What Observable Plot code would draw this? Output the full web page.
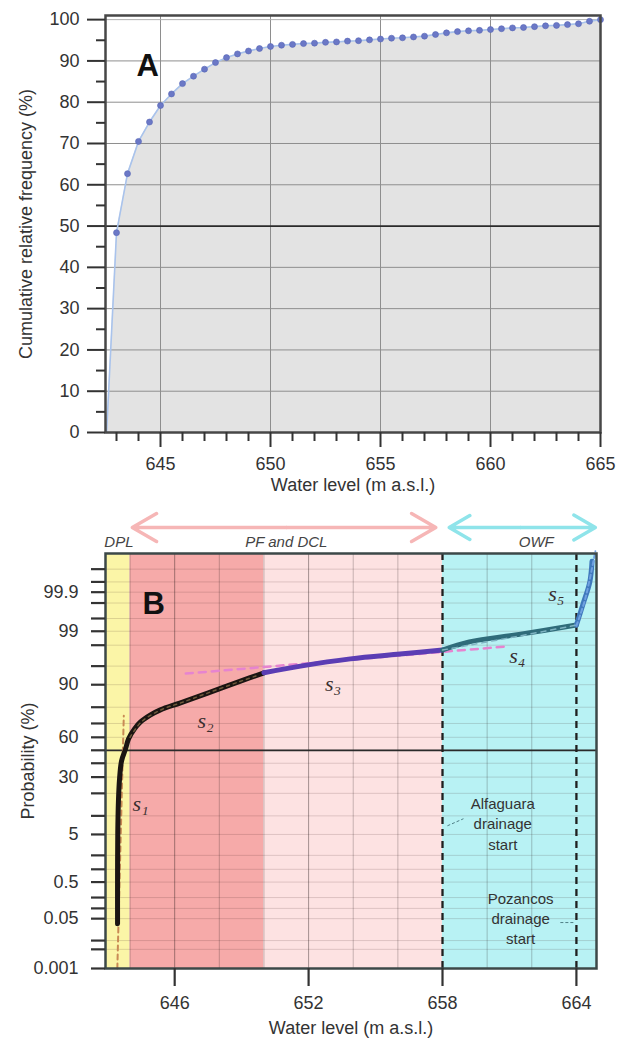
<!DOCTYPE html>
<html><head><meta charset="utf-8">
<script src="https://cdn.jsdelivr.net/npm/d3@7"></script>
<script src="https://cdn.jsdelivr.net/npm/@observablehq/plot@0.6"></script>
<style>
body{margin:0;background:#fff;}
#c svg{display:block;}
</style>
</head><body><div id="c"></div>
<script>
// ---------- Panel A data ----------
const levelsA = [642.55, 643, 643.5, 644, 644.5, 645, 645.5, 646, 646.5, 647, 647.5, 648, 648.5, 649, 649.5, 650,
  650.5, 651, 651.5, 652, 652.5, 653, 653.5, 654, 654.5, 655, 655.5, 656, 656.5, 657, 657.5, 658,
  658.5, 659, 659.5, 660, 660.5, 661, 661.5, 662, 662.5, 663, 663.5, 664, 664.5, 665];
const cumFreqA = [0, 48.4, 62.7, 70.5, 75.2, 79.2, 82.0, 84.5, 86.3, 88.0, 89.6, 90.8, 91.7, 92.4, 93.0, 93.5,
  93.8, 94.0, 94.2, 94.3, 94.5, 94.6, 94.8, 94.9, 95.1, 95.3, 95.5, 95.6, 95.8, 96.0, 96.4, 96.8,
  97.1, 97.3, 97.4, 97.6, 97.8, 98.0, 98.1, 98.3, 98.5, 98.6, 98.8, 99.0, 99.6, 100];
const majorXA = [645, 650, 655, 660, 665];
const minorXA = [643, 644, 646, 647, 648, 649, 651, 652, 653, 654, 656, 657, 658, 659, 661, 662, 663, 664];
const majorYA = [0, 10, 20, 30, 40, 50, 60, 70, 80, 90, 100];
const minorYA = [5, 15, 25, 35, 45, 55, 65, 75, 85, 95];

// ---------- Panel B data ----------
const curveLevelsB = [643.44, 643.44, 643.45, 643.48, 643.53, 643.62, 643.8, 643.93, 644.2, 644.47, 644.92, 645.36, 646.26, 647.51, 648.95, 650.0,
  651.64, 653.87, 656.1, 658.0, 659.2, 661.5, 664.0, 664.3, 664.6, 664.7];
const curveProbsB = [0.035, 0.54, 5.4, 16.2, 28.9, 41.8, 51.1, 58.8, 66.2, 71.0, 75.5, 78.5, 82.3, 86.9, 91.2, 93.5,
  95.0, 96.3, 97.0, 97.5, 98.3, 98.84, 99.28, 99.79, 99.95, 99.989];
const segNames = ["s1-s2", "s3", "s4", "s5"];
const segFrom = [642.9, 650.0, 658.0, 664.0];
const segTo = [650.0, 658.0, 664.0, 665.0];
const segColors = ["#1b1512", "#5b3db4", "#2f6c7a", "#3f78bc"];

const fitS1Levels = [643.43, 643.72], fitS1Probs = [0.001, 75];
const fitS2Levels = [644.0, 644.5, 645.4, 646.3, 647.5, 648.9, 649.7], fitS2Probs = [60, 71, 78.6, 82.4, 86.9, 91.0, 92.8];
const fitS3Levels = [646.5, 661.0], fitS3Probs = [93.3, 97.9];
const fitS4Levels = [658.0, 661.0, 664.0], fitS4Probs = [97.5, 98.6, 99.28];
const fitS5Levels = [664.0, 664.4, 664.85], fitS5Probs = [99.25, 99.85, 99.995];

const zoneFrom = [642.9, 644.0, 650.0, 658.0];
const zoneTo = [644.0, 650.0, 658.0, 664.9];
const zoneColors = ["#fbf5a7", "#f6aaa9", "#fde2e2", "#b8f2f4"];

const topLabels = ["DPL", "PF and DCL", "OWF"];
const topLabelX = [643.5, 651.0, 662.2];
const arrowStart = [651.0, 651.0, 661.5, 661.5];
const arrowEnd = [644.1, 657.7, 658.3, 664.85];
const arrowColors = ["#f6b6b6", "#f6b6b6", "#8fe4ea", "#8fe4ea"];

const probLabels = [0.001, 0.05, 0.5, 5, 30, 60, 90, 99, 99.9];
const probLabelText = ["0.001", "0.05", "0.5", "5", "30", "60", "90", "99", "99.9"];
const probMinor = [0.005, 0.01, 0.1, 0.2, 1, 2, 10, 20, 40, 50, 70, 80, 95, 98, 99.5, 99.8, 99.95, 99.98];
const probBottom = 0.001, probTop = 99.994;
const majorXB = [646, 652, 658, 664];
const gridXB = [644, 648, 650, 654, 656, 660, 662];

const sLabelText = ["s\u2081", "s\u2082", "s\u2083", "s\u2084", "s\u2085"];
const sLabelX = [644.47, 647.38, 653.1, 661.35, 663.1];
const sLabelP = [14.8, 71.7, 90.3, 96.7, 99.89];

const noteText = ["Alfaguara\ndrainage\nstart", "Pozancos\ndrainage\nstart"];
const noteX = [660.7, 661.5];
const noteP = [7.8, 0.054];
const leaderX1 = [658.22, 663.28], leaderP1 = [7.0, 0.038];
const leaderX2 = [658.94, 663.95], leaderP2 = [9.05, 0.038];

// inverse normal CDF (Acklam)
function probit(p) {
  const a=[-3.969683028665376e+01,2.209460984245205e+02,-2.759285104469687e+02,1.383577518672690e+02,-3.066479806614716e+01,2.506628277459239e+00];
  const b=[-5.447609879822406e+01,1.615858368580409e+02,-1.556989798598866e+02,6.680131188771972e+01,-1.328068155288572e+01];
  const c=[-7.784894002430293e-03,-3.223964580411365e-01,-2.400758277161838e+00,-2.549732539343734e+00,4.374664141464968e+00,2.938163982698783e+00];
  const d=[7.784695709041462e-03,3.224671290700398e-01,2.445134137142996e+00,3.754408661907416e+00];
  const pl=0.02425, ph=1-pl;
  if (p<pl){const q=Math.sqrt(-2*Math.log(p)); return (((((c[0]*q+c[1])*q+c[2])*q+c[3])*q+c[4])*q+c[5])/((((d[0]*q+d[1])*q+d[2])*q+d[3])*q+1);}
  if (p<=ph){const q=p-0.5, r=q*q; return (((((a[0]*r+a[1])*r+a[2])*r+a[3])*r+a[4])*r+a[5])*q/(((((b[0]*r+b[1])*r+b[2])*r+b[3])*r+b[4])*r+1);}
  const q=Math.sqrt(-2*Math.log(1-p)); return -(((((c[0]*q+c[1])*q+c[2])*q+c[3])*q+c[4])*q+c[5])/((((d[0]*q+d[1])*q+d[2])*q+d[3])*q+1);
}
const zOf = p => probit(p / 100);

const FONT = "'Liberation Sans', Arial, sans-serif";
const SERIF = "'Liberation Serif', 'DejaVu Serif', serif";

// ---------- Chart A ----------
const rowsA = levelsA.map((x, i) => ({x, y: cumFreqA[i]}));
const chartA = Plot.plot({
  width: 623, height: 510,
  marginLeft: 105, marginRight: 23, marginTop: 15, marginBottom: 78,
  x: {domain: [642.5, 665]},
  y: {domain: [0, 101]},
  style: {fontFamily: FONT, fontSize: "18px", color: "#333", background: "#fff", overflow: "visible"},
  marks: [
    Plot.areaY(rowsA, {x: "x", y: "y", fill: "#e3e3e3"}),
    Plot.ruleX(majorXA.slice(0, 4), {stroke: "#8e8e8e", strokeWidth: 1}),
    Plot.ruleY(majorYA.filter(v => v > 0 && v < 100 && v !== 50), {stroke: "#8e8e8e", strokeWidth: 1}),
    Plot.ruleY([100], {stroke: "#b0b0b0", strokeWidth: 1}),
    Plot.ruleY([50], {stroke: "#2b2b2b", strokeWidth: 1.7}),
    Plot.line(rowsA, {x: "x", y: "y", stroke: "#a9c3ec", strokeWidth: 1.6}),
    Plot.dot(rowsA.filter(d => d.y > 0), {x: "x", y: "y", r: 3, fill: "#6b78c6", stroke: "#5664b6", strokeWidth: 0.6}),
    Plot.frame({stroke: "#474747", strokeWidth: 2.5}),
    Plot.axisX(majorXA, {tickSize: 15, tickPadding: 10, strokeWidth: 2, label: null, fontSize: 18}),
    Plot.axisX(minorXA, {tickSize: 9, tickFormat: () => "", strokeWidth: 2, label: null}),
    Plot.axisY(majorYA, {tickSize: 18, tickPadding: 8, strokeWidth: 2, label: null, fontSize: 18}),
    Plot.axisY(minorYA, {tickSize: 9, tickFormat: () => "", strokeWidth: 2, label: null}),
    Plot.text(["Water level (m a.s.l.)"], {frameAnchor: "bottom", dy: 58, fontSize: 18, fill: "#333"}),
    Plot.text(["Cumulative relative frequency (%)"], {frameAnchor: "left", dx: -79, rotate: -90, textAnchor: "middle", fontSize: 18, fill: "#333"}),
    Plot.text(["A"], {frameAnchor: "top-left", dx: 31, dy: 38, fontSize: 31, fontWeight: "bold", fill: "#111"})
  ]
});

// ---------- Chart B ----------
const yDomB = [zOf(probBottom), zOf(probTop)];
const plotHB = 534 - 43 - 76;
const zArrow = yDomB[1] + 26 * (yDomB[1] - yDomB[0]) / plotHB;

const zones = zoneFrom.map((f, i) => ({x1: f, x2: zoneTo[i], color: zoneColors[i]}));
const curveRows = [];
segNames.forEach((s, k) => {
  curveLevelsB.forEach((x, i) => {
    if (x >= segFrom[k] && x <= segTo[k]) curveRows.push({seg: s, x, z: zOf(curveProbsB[i]), color: segColors[k]});
  });
});
const mk = (xs, ps) => xs.map((x, i) => ({x, z: zOf(ps[i])}));
const fitS1 = mk(fitS1Levels, fitS1Probs), fitS2 = mk(fitS2Levels, fitS2Probs), fitS3 = mk(fitS3Levels, fitS3Probs),
      fitS4 = mk(fitS4Levels, fitS4Probs), fitS5 = mk(fitS5Levels, fitS5Probs);
const labelZ = probLabels.map(zOf);
const labelMap = new Map(labelZ.map((z, i) => [z, probLabelText[i]]));
const minorZ = probMinor.map(zOf);
const arrows = arrowStart.map((s, i) => ({x1: s, x2: arrowEnd[i], color: arrowColors[i]}));
const tops = topLabels.map((t, i) => ({t, x: topLabelX[i]}));
const sLabs = sLabelText.map((t, i) => ({t, x: sLabelX[i], z: zOf(sLabelP[i])}));
const notes = noteText.map((t, i) => ({t, x: noteX[i], z: zOf(noteP[i])}));
const leaders = leaderX1.map((x, i) => ({x1: x, z1: zOf(leaderP1[i]), x2: leaderX2[i], z2: zOf(leaderP2[i])}));

const chartB = Plot.plot({
  width: 623, height: 534,
  marginLeft: 105, marginRight: 27, marginTop: 43, marginBottom: 76,
  x: {domain: [642.9, 664.9]},
  y: {domain: yDomB},
  color: {type: "identity"},
  style: {fontFamily: FONT, fontSize: "18px", color: "#333", background: "#fff", overflow: "visible"},
  marks: [
    Plot.rect(zones, {x1: "x1", x2: "x2", y1: () => yDomB[0], y2: () => yDomB[1], fill: d => d.color}),
    Plot.ruleY(minorZ.concat(labelZ), {stroke: "rgba(60,30,30,0.16)", strokeWidth: 1}),
    Plot.ruleX(gridXB, {stroke: "rgba(40,30,30,0.25)", strokeWidth: 1}),
    Plot.ruleX([646, 652], {stroke: "rgba(30,20,20,0.4)", strokeWidth: 1}),
    Plot.ruleY([zOf(50)], {stroke: "#2a2a2a", strokeWidth: 1.7}),
    Plot.ruleX([658, 664], {stroke: "#1f1f1f", strokeWidth: 2.3, strokeDasharray: "7,5"}),
    Plot.line(fitS3, {x: "x", y: "z", stroke: "#e684d0", strokeWidth: 2.5, strokeDasharray: "7,6"}),
    Plot.line(fitS1, {x: "x", y: "z", stroke: "#c98a55", strokeWidth: 2, strokeDasharray: "5,4"}),
    Plot.line(curveRows, {x: "x", y: "z", z: "seg", stroke: d => d.color, strokeWidth: 5, curve: "catmull-rom", strokeLinecap: "round"}),
    Plot.line(fitS2, {x: "x", y: "z", stroke: "#6e5a3c", strokeWidth: 1.5, strokeDasharray: "3,4", curve: "catmull-rom"}),
    Plot.line(fitS4, {x: "x", y: "z", stroke: "#7fb4c2", strokeWidth: 1.5, strokeDasharray: "5,5", curve: "catmull-rom"}),
    Plot.line(fitS5, {x: "x", y: "z", stroke: "#6fa0e0", strokeWidth: 2, strokeDasharray: "4,3", curve: "catmull-rom"}),
    Plot.frame({stroke: "#3c4848", strokeWidth: 2.5}),
    Plot.axisX(majorXB, {tickSize: 18, tickPadding: 10, strokeWidth: 2.2, label: null, fontSize: 18}),
    Plot.axisY(labelZ, {tickSize: 14, tickPadding: 13, strokeWidth: 2.2, tickFormat: z => labelMap.get(z), label: null, fontSize: 18}),
    Plot.axisY(minorZ, {tickSize: 14, tickFormat: () => "", strokeWidth: 2.2, label: null}),
    Plot.text(["Water level (m a.s.l.)"], {frameAnchor: "bottom", dy: 65, fontSize: 18, fill: "#333"}),
    Plot.text(["Probability (%)"], {frameAnchor: "left", dx: -77, rotate: -90, textAnchor: "middle", fontSize: 18, fill: "#333"}),
    Plot.text(["B"], {frameAnchor: "top-left", dx: 37, dy: 38, fontSize: 31, fontWeight: "bold", fill: "#111"}),
    Plot.text(sLabs, {x: "x", y: "z", text: "t", fontFamily: SERIF, fontStyle: "italic", fontSize: 22, fill: "#3a2f2f"}),
    Plot.link(leaders, {x1: "x1", y1: "z1", x2: "x2", y2: "z2", stroke: "#4f7f86", strokeWidth: 1, strokeDasharray: "3,2"}),
    Plot.text(notes, {x: "x", y: "z", text: "t", fontSize: 15, lineHeight: 1.35, fill: "#333"}),
    Plot.arrow(arrows, {x1: "x1", x2: "x2", y1: () => zArrow, y2: () => zArrow, stroke: d => d.color, strokeWidth: 3.5, headLength: 12}),
    Plot.text(tops, {x: "x", text: "t", frameAnchor: "top", lineAnchor: "middle", dy: -11, fontSize: 15, fontStyle: "italic", fill: "#444"})
  ]
});

const c = document.getElementById("c");
c.appendChild(chartA);
c.appendChild(chartB);
</script>
</body></html>
